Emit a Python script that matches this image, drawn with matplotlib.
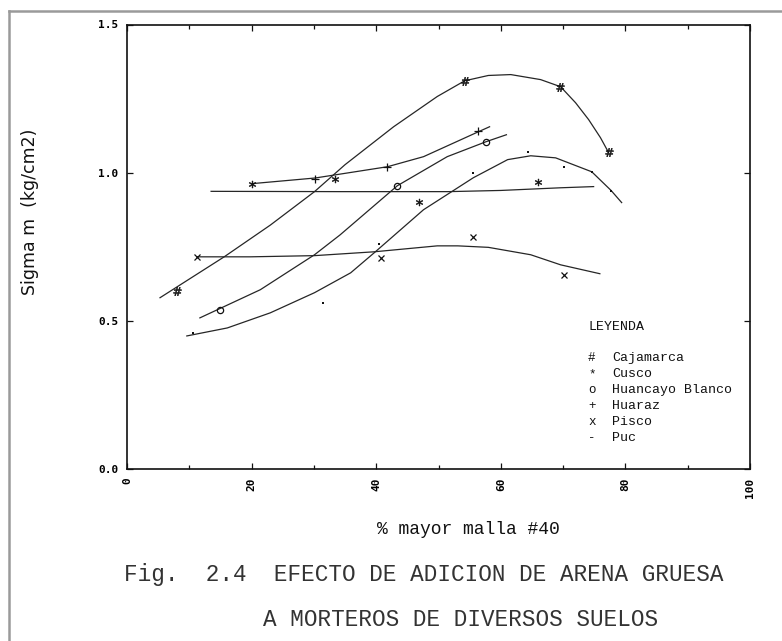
import matplotlib
matplotlib.use("Agg")
import matplotlib.pyplot as plt
from matplotlib.lines import Line2D
from matplotlib.ticker import MultipleLocator

W, H = 782, 641

# measured points (% mayor malla #40, sigma m in kg/cm2)
caj_x = [8.0, 54.2, 69.5, 77.3]
caj_y = [0.60, 1.31, 1.29, 1.07]
cus_x = [20.1, 33.4, 46.8, 65.9]
cus_y = [0.963, 0.98, 0.90, 0.97]
hbl_x = [15.0, 43.4, 57.7]
hbl_y = [0.537, 0.956, 1.105]
hua_x = [30.2, 41.8, 56.4]
hua_y = [0.98, 1.02, 1.14]
pis_x = [11.2, 40.7, 55.6, 70.1]
pis_y = [0.716, 0.713, 0.784, 0.655]
puc_x = [10.6, 31.4, 40.4, 55.5, 64.3, 70.1, 74.6, 77.7]
puc_y = [0.46, 0.56, 0.76, 1.00, 1.071, 1.02, 1.003, 0.939]

# trend curves
caj_cx = [5.3, 15.6, 23.0, 30.1, 35.0, 42.8, 49.8, 54.2, 58.0, 61.6, 66.4, 69.6, 72.0, 74.1, 76.0, 77.3]
caj_cy = [0.578, 0.716, 0.823, 0.936, 1.027, 1.155, 1.257, 1.31, 1.328, 1.331, 1.314, 1.29, 1.236, 1.179, 1.118, 1.068]
cus_cx = [13.5, 34.2, 51.6, 60.0, 69.6, 74.9]
cus_cy = [0.937, 0.936, 0.936, 0.94, 0.949, 0.953]
hbl_cx = [11.7, 21.4, 30.1, 34.2, 43.4, 51.4, 57.7, 60.9]
hbl_cy = [0.51, 0.605, 0.723, 0.79, 0.956, 1.054, 1.105, 1.128]
hua_cx = [20.1, 30.2, 41.8, 47.6, 56.4, 58.2]
hua_cy = [0.963, 0.982, 1.02, 1.054, 1.138, 1.155]
pis_cx = [11.2, 19.8, 30.1, 39.7, 49.8, 53.1, 58.0, 64.8, 69.6, 75.9]
pis_cy = [0.716, 0.716, 0.72, 0.733, 0.753, 0.753, 0.748, 0.723, 0.689, 0.659]
puc_cx = [9.6, 16.1, 23.0, 30.1, 35.9, 39.7, 47.6, 55.6, 61.1, 64.8, 68.8, 74.6, 77.7, 79.4]
puc_cy = [0.449, 0.476, 0.527, 0.595, 0.662, 0.73, 0.875, 0.983, 1.044, 1.057, 1.05, 1.003, 0.94, 0.899]

leyenda = ["Cajamarca", "Cusco", "Huancayo Blanco", "Huaraz", "Pisco", "Puc"]
simbolos = ["#", "*", "o", "+", "x", "-"]

fig = plt.figure(figsize=(W / 100, H / 100), dpi=100)
ax = fig.add_axes([127 / W, 1 - 469 / H, 623 / W, 444.5 / H])

lc = "#262626"
lw = 0.9
for cx, cy in [(caj_cx, caj_cy), (cus_cx, cus_cy), (hbl_cx, hbl_cy),
               (hua_cx, hua_cy), (pis_cx, pis_cy), (puc_cx, puc_cy)]:
    ax.plot(cx, cy, color=lc, lw=lw, solid_joinstyle="round")

ax.plot(caj_x, caj_y, ls="none", marker=r"$\#$", ms=6, color="#111", mew=0.4)
ax.plot(cus_x, cus_y, ls="none", marker=r"$*$", ms=5, color="#111", mew=0.4)
ax.plot(hbl_x, hbl_y, ls="none", marker="o", ms=4.5, mfc="none", mec="#111", mew=0.9)
ax.plot(hua_x, hua_y, ls="none", marker="+", ms=6, color="#111", mew=0.9)
ax.plot(pis_x, pis_y, ls="none", marker="x", ms=4.5, color="#111", mew=0.9)
ax.plot(puc_x, puc_y, ls="none", marker="s", ms=1.6, color="#111", mew=0)

ax.set_xlim(0, 100)
ax.set_ylim(0, 1.5)
ax.xaxis.set_major_locator(MultipleLocator(20))
ax.xaxis.set_minor_locator(MultipleLocator(10))
ax.yaxis.set_major_locator(MultipleLocator(0.5))
ax.tick_params(axis="both", which="both", direction="in", top=True, right=True,
               width=0.9, color="#111")
ax.tick_params(axis="x", which="major", length=4, pad=6)
ax.tick_params(axis="x", which="minor", length=3)
ax.tick_params(axis="y", which="major", length=4, pad=6)
for s in ax.spines.values():
    s.set_linewidth(1.2)
    s.set_color("#111")

tick_font = dict(family="DejaVu Sans Mono", weight="bold", size=8)
ax.set_xticks([0, 20, 40, 60, 80, 100])
ax.set_xticklabels(["0", "20", "40", "60", "80", "100"], rotation=90, va="top", **tick_font)
ax.set_yticks([0, 0.5, 1.0, 1.5])
ax.set_yticklabels(["0.0", "0.5", "1.0", "1.5"], **tick_font)

# leyenda dentro del grafico
mono = "Liberation Mono"
fig.text(588 / W, 1 - 327 / H, "LEYENDA", family=mono, size=9.5, va="center", color="#111")
for i, (nom, sim) in enumerate(zip(leyenda, simbolos)):
    yy = 1 - (358 + i * 16) / H
    fig.text(588 / W, yy, sim, family=mono, size=9, va="center", color="#111")
    fig.text(612 / W, yy, nom, family=mono, size=9.5, va="center", color="#111")

# titulos
fig.text(30 / W, 1 - 212 / H, "Sigma m  (kg/cm2)", rotation=90, ha="center", va="center",
         family="DejaVu Sans", size=12.5, color="#111")
fig.text(468 / W, 1 - 530 / H, "% mayor malla #40", ha="center", va="center",
         family=mono, size=13, color="#111")
fig.text(124 / W, 1 - 575 / H, "Fig.  2.4  EFECTO DE ADICION DE ARENA GRUESA",
         ha="left", va="center", family=mono, size=16.3, color="#333")
fig.text(263 / W, 1 - 619 / H, "A MORTEROS DE DIVERSOS SUELOS",
         ha="left", va="center", family=mono, size=16.3, color="#333")

# marco exterior
fig.add_artist(Line2D([9 / W, 9 / W], [0, 1 - 11 / H], transform=fig.transFigure,
                      color="#9a9a9a", lw=1.8))
fig.add_artist(Line2D([9 / W, 1], [1 - 11 / H, 1 - 11 / H], transform=fig.transFigure,
                      color="#9a9a9a", lw=1.8))

fig.savefig("out.png", dpi=100)
